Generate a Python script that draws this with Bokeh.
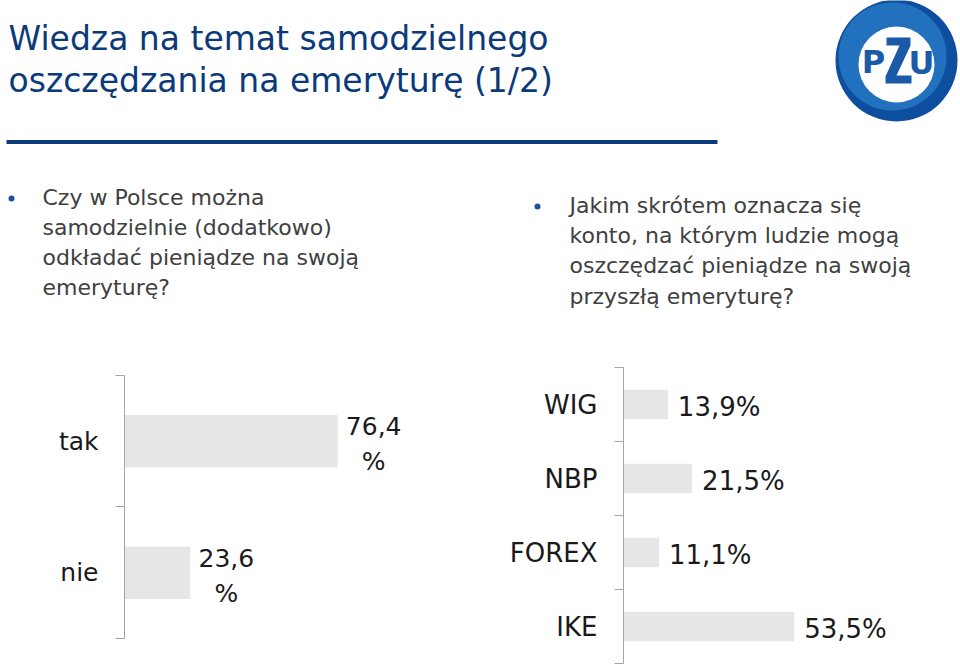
from bokeh.plotting import figure
from bokeh.models import Range1d, LinearAxis, FixedTicker
from bokeh.layouts import column, row
from bokeh.core.properties import value
from bokeh.embed import file_html
from bokeh.resources import INLINE

# ---------------- data ----------------
title_lines = ["Wiedza na temat samodzielnego", "oszczędzania na emeryturę (1/2)"]
q_left = ["Czy w Polsce można", "samodzielnie (dodatkowo)",
          "odkładać pieniądze na swoją", "emeryturę?"]
q_right = ["Jakim skrótem oznacza się", "konto, na którym ludzie mogą",
           "oszczędzać pieniądze na swoją", "przyszłą emeryturę?"]
cats_left = ["tak", "nie"]
vals_left = [76.4, 23.6]
cats_right = ["WIG", "NBP", "FOREX", "IKE"]
vals_right = [13.9, 21.5, 11.1, 53.5]
logo_letters = ["P", "U"]

FONT = "DejaVu Sans"
NAVY = "#0b3a7a"
GREY_TXT = "#404040"
BAR = "#e6e6e6"
AXIS = "#a6a6a6"


def base_fig(w, h, xr, yr, **kw):
    p = figure(width=w, height=h, x_range=xr, y_range=yr, output_backend="svg",
               toolbar_location=None, x_axis_location=None, y_axis_location=None,
               min_border=0, **kw)
    p.outline_line_color = None
    p.grid.grid_line_color = None
    p.xgrid.visible = False
    p.ygrid.visible = False
    p.background_fill_color = "white"
    p.border_fill_color = "white"
    return p


# ---------------- top area (page coordinates) ----------------
top = base_fig(960, 360, Range1d(0, 960), Range1d(360, 0))
top.text(x=[8] * len(title_lines), y=[38 + 42 * i for i in range(len(title_lines))],
         text=title_lines, text_font=value(FONT), text_font_size="33px",
         text_color=NAVY, text_baseline="middle")
top.segment(x0=[6], y0=[141.5], x1=[717], y1=[141.5], line_width=4, line_color="#0c3c7c")

top.scatter(x=[11, 537], y=[198, 206], size=6, color="#1f4e9a", line_color=None)
top.text(x=[42] * len(q_left), y=[197 + 30 * i for i in range(len(q_left))],
         text=q_left, text_font=value(FONT), text_font_size="22px",
         text_color=GREY_TXT, text_baseline="middle")
top.text(x=[569] * len(q_right), y=[205 + 30.2 * i for i in range(len(q_right))],
         text=q_right, text_font=value(FONT), text_font_size="22px",
         text_color=GREY_TXT, text_baseline="middle")

# logo
top.circle(x=[896], y=[60], radius=61, color="#0d4f9e", line_color=None)
top.circle(x=[892], y=[56], radius=54, color="#2677c4", line_color=None, alpha=0.85)
top.circle(x=[896], y=[64], radius=38, color="white", line_color=None)
top.text(x=[873, 921], y=[61, 62], text=logo_letters, text_font=value(FONT),
         text_font_style="bold", text_font_size="32px", text_color="#1a5aa8",
         text_align="center", text_baseline="middle")
top.patch(x=[886, 910, 910, 896, 911, 911, 885, 885, 899, 886],
          y=[37, 37, 45, 75, 75, 83, 83, 76, 45, 45], color="#1a5aa8", line_color=None)


# ---------------- bar charts ----------------
def bar_chart(w, h, x_end, y_top, y_bottom, border_left, cats, vals, labels,
              font_size, x_off, align, y_off):
    n = len(cats)
    p = base_fig(w, h, Range1d(0, x_end), Range1d(y_bottom, y_top),
                 min_border_left=border_left)
    ypos = [i + 0.5 for i in range(n)]
    p.hbar(y=ypos, left=0, right=vals, height=0.4, color=BAR, line_color=None)
    p.text(x=vals, y=ypos, text=labels, x_offset=x_off, y_offset=y_off,
           text_font=value(FONT), text_font_size=font_size, text_color="#1a1a1a",
           text_align=align, text_baseline="middle", text_line_height=1.2)
    ax = LinearAxis(ticker=FixedTicker(ticks=ypos, minor_ticks=list(range(n + 1))),
                    bounds=(0, n))
    ax.major_label_overrides = {y: c for y, c in zip(ypos, cats)}
    ax.major_tick_line_color = None
    ax.major_tick_out = 0
    ax.major_tick_in = 0
    ax.minor_tick_out = 9
    ax.minor_tick_in = 0
    ax.minor_tick_line_color = AXIS
    ax.axis_line_color = AXIS
    ax.major_label_standoff = 17
    ax.major_label_text_font = FONT
    ax.major_label_text_font_size = font_size
    ax.major_label_text_color = "#1a1a1a"
    p.add_layout(ax, "left")
    return p


lab_left = [f"{v:.1f}".replace(".", ",") + "\n%" for v in vals_left]
lab_right = [f"{v:.1f}".replace(".", ",") + "%" for v in vals_right]

left = bar_chart(480, 304, 127.6, -0.114, 2.198, 124, cats_left, vals_left, lab_left,
                 "25px", 36, "center", 3)
right = bar_chart(480, 304, 105.6, -0.0946, 4.0135, 143, cats_right, vals_right, lab_right,
                  "26px", 10, "left", 2)

layout = column(top, row(left, right))
open("out.html", "w").write(file_html(layout, INLINE))
